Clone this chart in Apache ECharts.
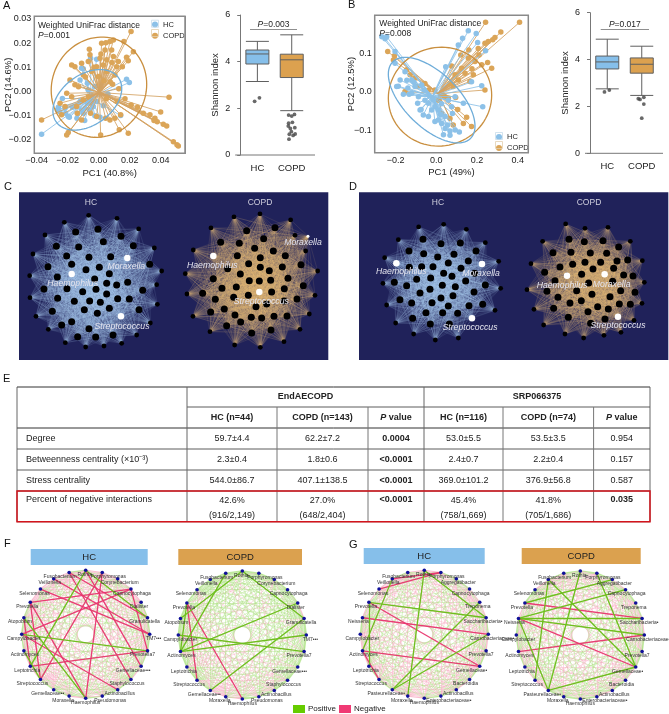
<!DOCTYPE html>
<html><head><meta charset="utf-8">
<style>html,body{margin:0;padding:0;background:#fff}#c{width:669px;height:714px}#frameA{position:absolute;left:33.5px;top:15.5px;width:150.2px;height:136.5px;border:1.5px solid #8a8a8a;pointer-events:none;z-index:5}</style>
<script src="https://cdn.jsdelivr.net/npm/echarts@6/dist/echarts.min.js"></script></head>
<body><div id="c"></div><div id="frameA"></div>
<script>
const FONT='"Liberation Sans",Arial,sans-serif';
const BLUE='#8cc1e8', ORANGE='#dba558', ELL_B='#6fadd9', ELL_O='#c98f3f';
// ---------- PCoA A
const hcA=[[-.0368,-.0176],[-.0260,-.0065],[-.0266,-.0076],[-.0234,-.0029],[-.0196,-.0103],[-.0189,-.0106],[-.0168,-.0065],[-.0135,-.0092],[-.0110,.0096],[-.0099,.0094],[-.0052,.0138],[-.0013,.0134],[.0198,.0037],[.0180,.0051],[.0142,-.0099],[.0030,-.0059],[-.0024,-.0100],[.0009,-.0106],[-.0056,-.0034],[-.0073,-.0048],[-.0045,-.0021],[-.0034,-.0062],[-.0120,-.0041],[-.0153,-.0062],[-.0217,-.0069],[-.0250,-.0083],[-.0213,-.0090],[-.0099,-.0090],[-.0056,-.0076],[-.0088,-.0069],[-.0045,-.0048],[-.0013,-.0041],[-.0067,.0007],[-.0024,.0021],[-.0120,.0048],[-.0073,.0034],[-.0110,-.0076],[-.0140,-.0110],[-.0090,-.0120],[.0060,-.0010]];
const copdA=[[.0514,-.0225],[.0505,-.0220],[.0482,-.0207],[.0454,-.0023],[.0439,-.0142],[.0417,-.0135],[.0400,-.0084],[.0378,-.0125],[.0363,-.0110],[.0357,-.0120],[.0331,-.0096],[.0288,-.0090],[.0191,-.0172],[.0209,.0248],[.0163,.0207],[.0224,.0165],[.0191,.0127],[.0180,.0142],[.0127,.0124],[.0153,.0103],[.0095,.0213],[.0073,.0207],[.0047,.0202],[.0019,.0200],[-.0060,.0175],[-.0056,.0152],[-.0174,.0110],[-.0153,.0103],[-.0110,.0117],[-.0067,.0124],[.0009,.0138],[.0052,.0131],[.0095,.0145],[.0041,.0172],[.0084,.0172],[-.0368,-.0117],[-.0206,-.0179],[-.0196,-.0169],[.0013,-.0179],[.0133,-.0158],[.0073,-.0117],[.0105,-.0110],[.0142,-.0096],[.0045,-.0110],[-.0185,.0048],[-.0153,.0028],[-.0206,-.0007],[-.0249,-.0048],[-.0217,-.0062],[-.0174,-.0021],[-.0142,-.0062],[-.0099,-.0034],[-.0099,.0069],[-.0045,.0083],[-.0002,.0062],[.0052,.0083],[.0105,.0069],[-.0013,.0103],[.0030,.0110],[.0116,.0103],[-.0239,-.0096],[-.0138,-.0090],[-.0110,-.0117],[-.0052,-.0090],[-.0013,-.0103],[-.0067,-.0021],[.0075,.0040],[.0035,.0045],[.0090,.0030],[.0130,.0012],[.0170,-.0030],[.0210,-.0055],[.0250,-.0065],[.0120,-.0040],[.0050,-.0030],[.0085,.0120],[.0015,.0155],[-.0030,.0100],[-.0085,.0060],[-.0130,.0020]];
const centroidA={hc:[-.005,-.0028],copd:[.0005,-.0004]};
// centre x, centre y, semi-axis x, semi-axis y, phase
const ellipseHcA=[-.0073,-.0034,.0222,.0125,.38], ellipseCopdA=[.0002,.0018,.0308,.0207,.06];
// ---------- PCoA B
const hcB=[[-.268,.142],[-.244,.142],[-.252,.137],[.157,.157],[.196,.150],[.129,.138],[.203,.127],[.242,.106],[.108,.121],[-.203,.104],[-.203,.074],[.046,.065],[-.154,.052],[-.178,.031],[-.187,.015],[-.195,.014],[-.162,-.006],[-.134,-.006],[-.105,.014],[-.121,.031],[-.072,.018],[-.121,-.003],[-.088,-.012],[-.056,-.021],[-.092,-.029],[-.080,-.046],[-.064,-.059],[-.039,-.063],[-.007,-.076],[.026,-.081],[.043,-.094],[.067,-.111],[.092,-.098],[.113,-.103],[.067,-.100],[.010,-.072],[.043,-.063],[.079,-.055],[.075,-.038],[.133,-.029],[.228,-.038],[.173,.026],[.223,.016],[.092,-.012],[.059,-.021],[-.007,-.038],[-.023,-.046],[-.039,-.029],[.010,-.046],[-.060,.005],[-.035,-.010],[-.015,-.020],[.025,-.030],[-.110,.025],[-.145,.030],[-.140,.010],[-.075,-.045],[.035,-.110],[.055,-.085],[.020,-.058]];
const copdB=[[.242,.179],[.409,.179],[.317,.154],[.288,.140],[.277,.134],[.160,.108],[-.239,.104],[-.206,.093],[-.211,.082],[.075,.067],[.252,.076],[.272,.061],[.223,.070],[.182,.044],[.141,.048],[.239,.005],[.165,.027],[.095,-.014],[.149,-.065],[.173,-.089],[.133,-.081],[-.154,.001],[-.097,.014],[-.056,.022],[-.105,.035],[-.129,.044],[-.146,.057],[-.007,.005],[.034,-.008],[.059,-.016],[.067,-.068],[.083,-.085],[.026,-.055],[-.039,.005],[.083,.014],[.108,.031],[.124,.061],[.092,.044],[.067,.022],[.157,.087],[.190,.078],[.206,.112],[.239,.125],[.255,.130],[.043,-.012],[.010,-.021],[.120,.095],[.175,.060],[.210,.095],[.105,-.045]];
const centroidB={hc:[-.02,-.012],copd:[.01,-.004]};
const ellipseHcB=[-.023,-.021,.213,.110,-.65], ellipseCopdB=[.018,-.012,.254,.127,.03];
// ---------- ticks
const ticksAx=[-.04,-.02,0,.02,.04], ticksAy=[-.02,-.01,0,.01,.02,.03];
const ticksBx=[-.2,0,.2,.4], ticksBy=[-.1,0,.1];
// ---------- Shannon boxes [low, q1, median, q3, high]
const groups=['HC','COPD'];
const boxA=[[3.15,3.9,4.33,4.5,4.87],[1.9,3.32,4.08,4.32,5.15]];
const outliersA=[[.42,2.3],[.56,2.45],[1.41,1.71],[1.5,1.67],[1.58,1.74],[1.41,1.36],[1.52,1.4],[1.4,1.24],[1.46,1.14],[1.59,1.17],[1.49,1.0],[1.6,.9],[1.54,.84],[1.42,.68],[1.43,.89]];
const boxB=[[2.75,3.6,3.9,4.15,4.87],[2.47,3.42,3.8,4.07,4.57]];
const outliersB=[[.42,2.62],[.56,2.7],[1.4,2.33],[1.45,2.3],[1.56,2.39],[1.56,2.1],[1.5,1.5]];
// ---------- co-occurrence networks (positions)
const cHcOuter=[[266,121],[351,130],[416,162],[463,219],[485,288],[470,329],[472,388],[451,444],[410,480],[365,505],[312,513],[257,516],[196,503],[145,463],[108,424],[90,368],[89,302],[99,237],[135,180],[193,142]];
const cHcInner=[[294,163],[227,171],[363,184],[169,214],[236,216],[310,200],[400,212],[267,247],[332,245],[200,243],[144,275],[215,268],[298,277],[258,284],[449,268],[172,306],[328,296],[284,312],[383,322],[320,325],[350,330],[132,342],[201,341],[248,350],[288,343],[428,346],[173,370],[320,357],[353,371],[388,372],[223,379],[269,378],[301,382],[253,404],[328,400],[157,409],[417,404],[292,415],[215,440],[185,450],[267,461],[233,485],[287,486],[339,480]];
const cHcKey=[['Moraxella',382,249],['Haemophilus',215,297],['Streptococcus',363,424]];
const cCopdOuter=[[780,117],[702,126],[872,135],[633,159],[885,181],[580,225],[917,228],[953,288],[556,296],[945,361],[561,357],[579,424],[928,417],[900,463],[630,470],[852,500],[704,510],[781,517]];
const cCopdInner=[[825,158],[740,167],[791,191],[662,202],[718,205],[820,228],[764,220],[856,242],[712,242],[781,248],[903,269],[746,266],[847,276],[683,281],[781,277],[808,287],[721,297],[640,311],[864,310],[748,317],[778,318],[812,316],[910,332],[853,341],[666,340],[709,336],[815,351],[608,355],[745,361],[891,372],[646,373],[701,367],[852,378],[768,395],[800,387],[673,402],[632,411],[705,420],[754,427],[822,424],[785,429],[861,423],[722,441],[680,452],[813,465],[755,474]];
const cCopdKey=[['Moraxella',924,184],['Haemophilus',640,243],['Streptococcus',778,351]];
const dHcOuter=[[251,156],[326,148],[394,163],[451,203],[491,259],[497,340],[480,406],[370,489],[301,495],[236,477],[182,444],[155,390],[144,325],[149,248],[190,194]];
const dHcInner=[[264,193],[318,206],[376,204],[222,228],[266,236],[423,228],[308,246],[357,238],[400,258],[340,264],[260,275],[294,275],[223,277],[378,280],[326,295],[245,313],[287,309],[351,304],[419,295],[178,322],[392,318],[451,330],[215,332],[322,331],[285,343],[361,335],[255,354],[417,351],[318,369],[354,362],[195,374],[230,384],[291,383],[443,388],[402,392],[340,393],[273,413],[323,413],[368,415],[233,430],[286,447],[343,447]];
const dHcKey=[['Haemophilus',184,265],['Moraxella',441,267],['Streptococcus',411,430]];
const dCopdOuter=[[692,147],[750,160],[819,157],[886,199],[922,257],[928,322],[921,385],[897,436],[858,472],[807,481],[746,489],[690,477],[626,450],[597,403],[576,344],[588,266],[623,199]];
const dCopdInner=[[702,193],[748,200],[804,197],[851,216],[654,233],[708,232],[766,234],[815,235],[878,255],[846,258],[750,262],[797,262],[713,268],[675,276],[836,280],[629,292],[774,282],[740,298],[866,300],[894,303],[660,317],[761,324],[833,319],[636,349],[725,347],[857,347],[900,352],[771,358],[825,365],[669,367],[705,384],[739,377],[853,387],[886,388],[788,395],[820,402],[656,400],[759,410],[700,427],[767,445],[810,432]];
const dCopdKey=[['Haemophilus',696,302],['Moraxella',809,298],['Streptococcus',849,425]];
// ---------- correlation circles: nodes clockwise from 3 o'clock
const nodeAngles=[0,15,30,45,60,75,90,105,120,135,150,165,180,195,210,225,240,255,270,285,300,315,330,345];
const taxaF=['TM7•••','Prevotella7','Gemellaceae•••','Staphylococcus','Actinobacillus','Pseudomonas','Haemophilus','Moraxella','Gemellaceae••','Streptococcus','Leptotrichia','Actinomyces','Campylobacter','Atopobium','Prevotella','Selenomonas','Veillonella','Fusobacterium','Rothia','Porphyromonas','Corynebacterium','Capnocytophaga','Dialister','Granulicatella'];
const taxaG=['Carnobacteriaceae•','Prevotella7','Gemellaceae•','Bacteroidia','Actinobacillus','Enterobacteriaceae•','Haemophilus','Moraxella','Pasteurellaceae•','Streptococcus','Leptotrichia','Actinomyces','Campylobacter','Neisseria','Prevotella','Selenomonas','Veillonella','Fusobacterium','Rothia','Porphyromonas','Aggregatibacter','Capnocytophaga','Treponema','Saccharibacteria•'];
// rows = chord step 1..11, char i = chord between node i and node i+step (p positive, n negative, . none)
const signsFHc=['ppnpppnppnnpppnnnpnnnnpp','nppn.npnpnnppnn.nnnpnnnp','pnpnp.ppnnpnnpnnpnpnnnpn','nnpppnnnpp.nnpnnnpnnpnpp','pn.ppnpnnnppnnnpnpnnnppn','ppnnpp.nnpnnpnpnnnpnp.pn','npnpnppnnnpnpnnppnnnpnpn','pnnp.nppnnpnnpnp.nnpnnpp','npppnnpnnpppnnpnnppnpnnp','ppnpnnppnpnnnppnnpnnppnn','nnppppnnppnnppnppnnnppnn'];
const signsFCopd=['ppppppnnppppppppppppppnp','pppp.pnnpppppp.pppppnppp','ppnpppnnppp.ppppnppppppp','pnp.nnnnpppnpppppppnpp.p','pppnnnnnppppnpppp.ppnppp','npnnpnnnnpppppnppppp.ppn','pnppnnpnnppppp.ppnpppppp','.ppnnnnnppnpppppnpp.pppn','pnnnpnnppp.ppnpppppnpppp','npnpnnppppnppppnpp.pnppp','nnpnnppnppppnppppnppnppn'];
const signsGHc=['nppnppnnppnnpnnnpnnppnnp','pnppn.npnnpnpp.nnpnnppnn','nnppnpnpnpnnpnpnnp.nnppn','ppnnn.pnpnnpnnppnpnnpnpn','npnppnnpp.nnpnppnnpnpnnp','pnnpnpnnpnpnpp.nnpnnpnpp','npnnpnpp.npnnppnnpnppnnp','ppnpnnpnnpp.nnpnnpppnnpn','nnpnppnnpnnpppnnpn.pnpnp','pnnppn.npnpnnpnpnppnnpnn','pnpnnppnnpnpnnpnpnpnpnpp'];
const signsGCopd=['ppnpnpppnnpppnpnppppnppn','npppn.pnppnnp.pnnpnppnnp','pnnpppn.npnppnnpp.npnppn','nppnpnpnnp.ppnpnnppnpnpp','pnpp.nnpnnppnpnppnnpppnn','npnnppnpp.npnnppnpnnppnp','pnpnnp.ppnnpnppnnpnpnnpp','ppn.pnnppnpnnp.pnnppnpnp','npnpnppnpnnppnnppnnpnppn','pnppnnpnpp.nnpnppn.npnpp','ppnnpnpnnppnpnppnnpnpnpp'];
// the heavier chords
const strongFHc={pos:[[18,10],[12,1],[13,6],[18,23],[9,11]],neg:[[12,21],[9,19],[10,1],[6,19],[16,0],[18,2],[15,0],[14,21],[17,23],[3,17],[9,14],[10,13],[6,14],[12,4],[21,1]]};
const strongFCopd={pos:[[17,11],[11,22],[12,1],[11,0],[18,23],[8,23],[13,18],[14,11]],neg:[[14,9],[14,6]]};
const strongGHc={pos:[[18,7],[18,23],[14,23],[8,0],[8,22],[14,10],[16,11]],neg:[[13,0],[15,19],[16,19],[11,2],[11,9],[14,2]]};
const strongGCopd={pos:[[13,23],[13,21],[9,16],[8,18],[13,8],[19,2],[13,0],[14,20],[16,2],[8,2]],neg:[[11,0],[14,23],[13,2]]};
// ---------- table
const tableSub=['HC (n=44)','COPD (n=143)','{b|P} value','HC (n=116)','COPD (n=74)','{b|P} value'];
const rowNames=['Degree','Betweenness centrality (×10⁻³)','Stress centrality','Percent of negative interactions'];
const rowCells=[['59.7±4.4','62.2±7.2','0.0004','53.0±5.5','53.5±3.5','0.954'],['2.3±0.4','1.8±0.6','<0.0001','2.4±0.7','2.2±0.4','0.157'],['544.0±86.7','407.1±138.5','<0.0001','369.0±101.2','376.9±56.8','0.587'],['42.6%\n(916/2,149)','27.0%\n(648/2,404)','<0.0001','45.4%\n(758/1,669)','41.8%\n(705/1,686)','0.035']];
const boldCells=[[2],[2],[2],[2,5]];

// ======= layout
const colX=[17,187,277,368,424,503,593.6,650], rowY=[387,407,428,449,470,491,521.7];
const grid=[],xAxis=[],yAxis=[],series=[],graphic=[],polar=[],angleAxis=[],radiusAxis=[];
const txtS=(s=9)=>({fontFamily:FONT,fontSize:s,color:'#222'});
const minus=d=>v=>(v<0?'−':'')+Math.abs(v).toFixed(d);

function pcoa(o){
  const gi=grid.length;
  grid.push({left:o.l,top:o.t,width:o.w,height:o.h,outerBoundsMode:'none'});
  const ax=(extra)=>Object.assign({gridIndex:gi,type:'value',scale:false,splitLine:{show:false},axisLine:{show:false},axisTick:{show:false},nameLocation:'middle',nameMoveOverlap:false,nameTextStyle:txtS(9.5)},extra);
  xAxis.push(ax({min:o.xr[0],max:o.xr[1],name:o.xn,nameGap:o.xgap,axisLabel:Object.assign(txtS(9),{customValues:o.xt,formatter:minus(o.xd),margin:3})}));
  yAxis.push(ax({min:o.yr[0],max:o.yr[1],name:o.yn,nameGap:o.ygap,axisLabel:Object.assign(txtS(9),{customValues:o.yt,formatter:minus(o.yd),margin:3})}));
  const xi=xAxis.length-1, yi=yAxis.length-1;
  const spider=(pts,c,col,z)=>series.push({type:'lines',coordinateSystem:'cartesian2d',xAxisIndex:xi,yAxisIndex:yi,silent:true,z,animation:false,
    lineStyle:{color:col,width:.9,opacity:.95},data:pts.map(p=>({coords:[c,p]}))});
  const points=(pts,name,col,z)=>series.push({type:'scatter',name,xAxisIndex:xi,yAxisIndex:yi,symbolSize:5.5,silent:true,z,itemStyle:{color:col,opacity:1},data:pts});
  const ring=(e,col,z)=>series.push({type:'custom',coordinateSystem:'cartesian2d',xAxisIndex:xi,yAxisIndex:yi,silent:true,z,clip:false,encode:{x:0,y:1},data:[[e[0],e[1]]],
    renderItem:(p,api)=>{const pts=[];for(let d=0;d<360;d+=4){const t=d*Math.PI/180;pts.push(api.coord([e[0]+e[2]*Math.cos(t),e[1]+e[3]*Math.sin(t+e[4])]));}
      return {type:'polygon',shape:{points:pts},style:{fill:'none',stroke:col,lineWidth:1.3}};}});
  const [z1,z2]=o.hcOnTop?[2,4]:[4,2];
  spider(o.copd,o.cent.copd,'#d3a263',z1); points(o.copd,'COPD',ORANGE,z1+1);
  spider(o.hc,o.cent.hc,BLUE,z2); points(o.hc,'HC',BLUE,z2+1);
  ring(o.ec,ELL_O,8); ring(o.eh,ELL_B,8);
  series.push({type:'custom',coordinateSystem:'cartesian2d',xAxisIndex:xi,yAxisIndex:yi,silent:true,z:9,clip:false,encode:{x:0,y:1},data:[[o.xr[0],o.yr[0]]],
    renderItem:(p,api)=>{const c=[[o.xr[0],o.yr[0]],[o.xr[1],o.yr[0]],[o.xr[1],o.yr[1]],[o.xr[0],o.yr[1]]].map(v=>api.coord(v));
      return {type:'polygon',shape:{points:c},style:{fill:'none',stroke:'#8a8a8a',lineWidth:1.5}};}});
}
pcoa({l:34.3,t:16.3,w:150.7,h:137,xr:[-.0415,.0557],yr:[-.0255,.0311],xt:ticksAx,yt:ticksAy,xd:2,yd:2,xn:'PC1 (40.8%)',yn:'PC2 (14.6%)',xgap:15,ygap:21,hc:hcA,copd:copdA,cent:centroidA,eh:ellipseHcA,ec:ellipseCopdA,hcOnTop:false});
pcoa({l:374.7,t:15.3,w:153.6,h:137.4,xr:[-.303,.452],yr:[-.156,.197],xt:ticksBx,yt:ticksBy,xd:1,yd:1,xn:'PC1 (49%)',yn:'PC2 (12.5%)',xgap:15,ygap:18,hc:hcB,copd:copdB,cent:centroidB,eh:ellipseHcB,ec:ellipseCopdB,hcOnTop:true});

function box(o){
  const gi=grid.length;
  grid.push({left:o.l,top:o.t,width:o.w,height:o.h,outerBoundsMode:'none'});
  xAxis.push({gridIndex:gi,type:'category',data:groups,axisLine:{show:false},axisTick:{alignWithLabel:true,length:3,lineStyle:{color:'#777'}},axisLabel:Object.assign(txtS(9.5),{margin:8,interval:0,hideOverlap:false})});
  const xc=xAxis.length-1;
  xAxis.push({gridIndex:gi,type:'value',min:0,max:2,show:false});
  yAxis.push({gridIndex:gi,type:'value',min:0,max:6,interval:2,offset:o.off,name:'Shannon index',nameLocation:'middle',nameGap:15,nameMoveOverlap:false,nameTextStyle:txtS(9.5),splitLine:{show:false},axisLine:{show:true,lineStyle:{color:'#777'}},axisTick:{show:true,length:3,lineStyle:{color:'#777'}},axisLabel:Object.assign(txtS(9),{margin:5})});
  const yi=yAxis.length-1;
  series.push({type:'boxplot',xAxisIndex:xc,yAxisIndex:yi,silent:true,boxWidth:[23,23],z:3,
    data:o.box.map((v,i)=>({value:v,itemStyle:{color:i?'#dca14f':'#86bfea',borderColor:'#5f5f5f',borderWidth:1}}))});
  series.push({type:'scatter',xAxisIndex:xc+1,yAxisIndex:yi,symbolSize:3.8,silent:true,z:4,itemStyle:{color:'#444'},data:o.out});
  graphic.push({type:'line',shape:{x1:o.l-o.off,y1:o.t+o.h,x2:o.axR,y2:o.t+o.h},style:{stroke:'#777',lineWidth:1},silent:true});
  graphic.push({type:'line',shape:{x1:o.p[0],y1:o.p[2]+4.5,x2:o.p[1],y2:o.p[2]+4.5},style:{stroke:'#8f8f8f',lineWidth:1.2},silent:true});
  graphic.push({type:'text',x:(o.p[0]+o.p[1])/2,y:o.p[2]-0.5,silent:true,style:{text:'{b|P}='+o.pv,align:'center',verticalAlign:'middle',font:'8.5px '+FONT,fill:'#222',rich:{b:{fontStyle:'italic',fontSize:8.5,fontFamily:FONT,fill:'#222'}}}});
}
box({l:240.2,t:15,w:68.7,h:140,off:5,axR:315,box:boxA,out:outliersA,p:[250,297,25],pv:'0.003'});
box({l:590,t:12.7,w:69,h:140.6,off:5,axR:663,box:boxB,out:outliersB,p:[600.7,649,25],pv:'0.017'});

function netGrid(l,xr,panelW){
  const gi=grid.length;
  grid.push({left:l,top:192.3,width:panelW,height:167.7,show:true,backgroundColor:'#20225a',borderColor:'#8a8a8a',borderWidth:0,outerBoundsMode:'none'});
  xAxis.push({gridIndex:gi,type:'value',min:xr[0],max:xr[1],show:false});
  yAxis.push({gridIndex:gi,type:'value',min:52,max:555,inverse:true,show:false});
  return [xAxis.length-1,yAxis.length-1];
}
function network(ax,outer,inner,key,col,op,offs){
  const n0=outer.length;
  const nodes=[...outer.map(p=>({value:p,symbolSize:4.8,itemStyle:{color:'#000'}})),...inner.map(p=>({value:p,symbolSize:7,itemStyle:{color:'#000'}})),
    ...key.map((k,i)=>({name:k[0],value:[k[1],k[2]],symbolSize:k[0]==='Moraxella'&&col.small?3:6.5,itemStyle:{color:'#fff'},
      label:{show:true,position:'inside',offset:offs[i],formatter:k[0],fontFamily:FONT,fontStyle:'italic',fontSize:8.7,color:'#e4e4ee'}}))];
  const links=[];
  for(let i=0;i<nodes.length;i++)for(let j=i+1;j<nodes.length;j++){ if(j<n0) continue; links.push({source:i,target:j}); }
  series.push({type:'graph',layout:'none',coordinateSystem:'cartesian2d',xAxisIndex:ax[0],yAxisIndex:ax[1],silent:true,animation:false,z:3,
    lineStyle:{color:col.c,width:.35,opacity:op,curveness:0},data:nodes,links});
}
const axC=netGrid(19,[57,985],309.3), axD=netGrid(359,[72,1000],309.3);
network(axC,cHcOuter,cHcInner,cHcKey,{c:'#a6cdf0'},.34,[[-1,9],[1,10],[1,10]]);
network(axC,cCopdOuter,cCopdInner,cCopdKey,{c:'#e5b777',small:true},.34,[[-5,6],[-1,10],[2,10]]);
network(axD,dHcOuter,dHcInner,dHcKey,{c:'#a6cdf0'},.34,[[5,8],[-1,10],[-2,9]]);
network(axD,dCopdOuter,dCopdInner,dCopdKey,{c:'#e5b777'},.34,[[-5,10],[7,10],[0,9]]);

const labelDx=[4,-5,-8,-4,2,8,0,-6,-6,-8,-3,1,2,-4,-3,-6,-4,-9,-1,6,2,1,-2,-3];
function circle(cx,cy,taxa,signs,strong){
  const pi=polar.length;
  polar.push({center:[cx,cy],radius:64});
  angleAxis.push({polarIndex:pi,type:'value',min:0,max:360,startAngle:0,clockwise:true,show:false});
  radiusAxis.push({polarIndex:pi,type:'value',min:0,max:1,show:false});
  const data=taxa.map((t,i)=>({name:t,value:[1,nodeAngles[i]],symbolSize:3.6,itemStyle:{color:'#10109a'},
    label:{show:true,position:'inside',offset:[labelDx[i],4.2],formatter:t,fontFamily:FONT,fontSize:5,color:'#333'}}));
  const links=[];
  signs.forEach((row,s)=>{for(let i=0;i<row.length;i++){const c=row[i];if(c==='.')continue;
    links.push({source:i,target:(i+s+1)%24,lineStyle:c==='p'?{color:'#a8e07c',width:s===0?1.5:.55,opacity:.75}:{color:'#f7a8c2',width:s===0?1.1:.55,opacity:.75}});}});
  strong.neg.forEach(p=>links.push({source:p[0],target:p[1],lineStyle:{color:'#e8356e',width:1.3,opacity:.95}}));
  strong.pos.forEach(p=>links.push({source:p[0],target:p[1],lineStyle:{color:'#6fbf1e',width:1.3,opacity:1}}));
  series.push({type:'graph',layout:'none',coordinateSystem:'polar',polarIndex:pi,silent:true,roam:false,animation:false,z:3,lineStyle:{curveness:0},data,links});
}
circle(85.7,634.3,taxaF,signsFHc,strongFHc);
circle(242.3,635,taxaF,signsFCopd,strongFCopd);
circle(424.3,634.3,taxaG,signsGHc,strongGHc);
circle(580.3,635,taxaG,signsGCopd,strongGCopd);

// ======= text & decoration
const txt=(x,y,text,s,extra)=>graphic.push({type:'text',x,y,silent:true,z:20,style:Object.assign({text,align:'left',verticalAlign:'middle',font:`${s}px ${FONT}`,fill:'#222'},extra||{})});
[['A',3,6],['B',348,5],['C',4,187],['D',349,187],['E',3,379],['F',4,544],['G',349,545]].forEach(a=>txt(a[1],a[2],a[0],11,{fill:'#111'}));
const richP={b:{fontStyle:'italic',fontSize:8.5,fontFamily:FONT,fill:'#222'}};
txt(38,25.7,'Weighted UniFrac distance',8.5);
txt(38,35.7,'{b|P}=0.001',8.5,{rich:richP});
txt(379.3,24,'Weighted UniFrac distance',8.5);
txt(379.3,34,'{b|P}=0.008',8.5,{rich:richP});
[[155,23.7,'#c8dcea'],[155,33,'#e2cfae'],[499,136,'#c8dcea'],[499,145,'#e2cfae']].forEach(r=>graphic.push({type:'rect',shape:{x:r[0]-3.5,y:r[1]-3.5,width:7,height:7},style:{fill:'none',stroke:r[2],lineWidth:.8},silent:true,z:19}));
[[91,'HC'],[260,'COPD'],[438,'HC'],[589,'COPD']].forEach(t=>txt(t[0],203,t[1],8.5,{fill:'#d0d0de',align:'center'}));
// header bars
[[30.7,117,'HC','#86bfea',549],[178.3,123.7,'COPD','#dba14f',549],[363.7,121,'HC','#86bfea',548],[521.7,119,'COPD','#dba14f',548]].forEach(b=>{
  graphic.push({type:'rect',shape:{x:b[0],y:b[4],width:b[1],height:16},style:{fill:b[3]},silent:true});
  txt(b[0]+b[1]/2,b[4]+8.5,b[2],9.5,{align:'center'});
});
// pos/neg key
[[293,'#66cc00','Positive',308],[339,'#f03a74','Negative',354]].forEach(k=>{
  graphic.push({type:'rect',shape:{x:k[0],y:705,width:12,height:8},style:{fill:k[1]},silent:true});
  txt(k[3],709,k[2],8);
});
// table
const stroke=(x1,y1,x2,y2,c,w)=>graphic.push({type:'line',shape:{x1,y1,x2,y2},style:{stroke:c,lineWidth:w},silent:true,z:10});
rowY.forEach((y,i)=>{ if(i===1) stroke(colX[1],y,colX[7],y,'#333',.8); else stroke(colX[0],y,colX[7],y,'#333',i===0||i===2?1:.8); });
[0,7].forEach(i=>stroke(colX[i],rowY[0],colX[i],rowY[6],'#555',.9));
[1,4].forEach(i=>stroke(colX[i],rowY[0],colX[i],rowY[6],'#666',1));
[2,3,5,6].forEach(i=>stroke(colX[i],rowY[1],colX[i],rowY[6],'#777',1));
graphic.push({type:'rect',shape:{x:colX[0],y:rowY[5],width:colX[7]-colX[0],height:rowY[6]-rowY[5]},style:{fill:'none',stroke:'#d3141c',lineWidth:1.5},silent:true,z:12});
const bold=s=>`bold ${s}px ${FONT}`;
txt((colX[1]+colX[4])/2,(rowY[0]+rowY[1])/2,'EndAECOPD',9,{align:'center',font:bold(9)});
txt((colX[4]+colX[7])/2,(rowY[0]+rowY[1])/2,'SRP066375',9,{align:'center',font:bold(9)});
const subCols=[1,2,3,4,5,6];
tableSub.forEach((t,i)=>{const c=subCols[i];txt((colX[c]+colX[c+1])/2,(rowY[1]+rowY[2])/2,t,9,{align:'center',font:bold(9),rich:{b:{fontStyle:'italic',fontWeight:'bold',fontSize:9,fontFamily:FONT,fill:'#222'}}});});
rowNames.forEach((t,r)=>{
  const top=rowY[r+2], bot=rowY[r+3], single=r<3, y=single?(top+bot)/2:top+8.5;
  txt(colX[0]+9,y,t,9);
  rowCells[r].forEach((c,i)=>{
    const col=subCols[i], b=boldCells[r].includes(i), two=c.includes('\n');
    txt((colX[col]+colX[col+1])/2,two?(top+bot)/2+1.5:y,c,9,{align:'center',font:b?bold(9):`9px ${FONT}`,lineHeight:15});
  });
});

const legendBase={orient:'vertical',itemWidth:6,itemHeight:6,itemGap:3.3,icon:'circle',selectedMode:false,data:['HC','COPD'],textStyle:{fontFamily:FONT,fontSize:7.5,color:'#222'},padding:0};
const chart=echarts.init(document.getElementById('c'),null,{renderer:'canvas'});
chart.setOption({animation:false,backgroundColor:'#fff',textStyle:{fontFamily:FONT},grid,xAxis,yAxis,polar,angleAxis,radiusAxis,series,
  legend:[Object.assign({},legendBase,{left:152,top:20.5,itemGap:3.3}),Object.assign({},legendBase,{left:496,top:133,itemGap:3})],
  graphic:{elements:graphic.map(g=>Object.assign({},g))}});
</script></body></html>
